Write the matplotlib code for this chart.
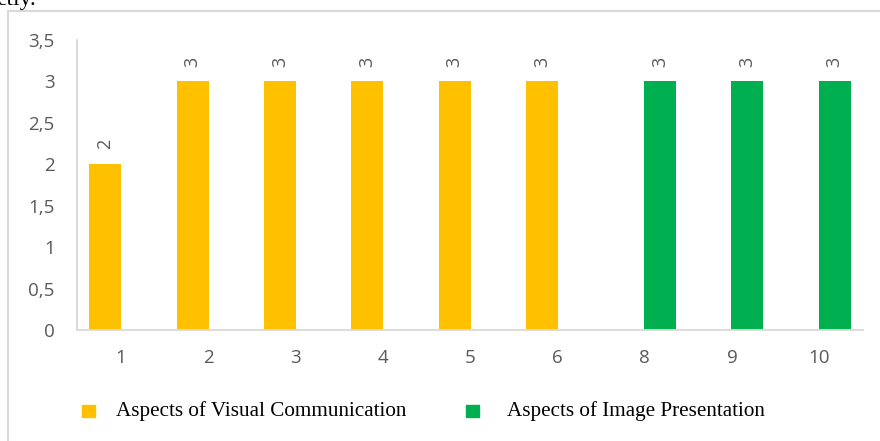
import numpy as np
import matplotlib.pyplot as plt
from matplotlib.patches import Rectangle
from matplotlib.lines import Line2D

categories = ["1", "2", "3", "4", "5", "6", "8", "9", "10"]
visual = [2, 3, 3, 3, 3, 3, 0, 0, 0]
image = [0, 0, 0, 0, 0, 0, 3, 3, 3]
series_names = ["Aspects of Visual Communication", "Aspects of Image Presentation"]
series_colors = ["#FFC000", "#00B050"]
yticks = [0, 0.5, 1, 1.5, 2, 2.5, 3, 3.5]

W, H = 880, 441
fig = plt.figure(figsize=(8.8, 4.41), dpi=100)
ax = fig.add_axes([77 / W, 1 - 330 / H, 786 / W, 290 / H])

x = np.arange(len(categories))
offsets = [-0.175, 0.175]
for vals, off, col in zip([visual, image], offsets, series_colors):
    ax.bar(x + off, vals, width=0.365, color=col, zorder=2)
    for xi, v in zip(x, vals):
        if v == 0:
            continue
        ax.annotate(str(v), (xi + off, v), xytext=(0, 20), textcoords="offset pixels",
                    ha="center", va="center", rotation=90, fontsize=13,
                    color="#595959", family="Open Sans")

ax.set_xlim(-0.5, len(categories) - 0.5)
ax.set_ylim(0, 3.5)
ax.set_xticks(x)
ax.set_xticklabels(categories)
ax.set_yticks(yticks)
ax.set_yticklabels([f"{t:g}".replace(".", ",") for t in yticks])
for lab in ax.get_xticklabels() + ax.get_yticklabels():
    lab.set_family("Open Sans")
    lab.set_fontsize(13.5)
    lab.set_color("#595959")
ax.tick_params(length=0)
ax.tick_params(axis="x", pad=14)
ax.tick_params(axis="y", pad=16)
for s in ["top", "right"]:
    ax.spines[s].set_visible(False)
for s in ["left", "bottom"]:
    ax.spines[s].set_color("#d9d9d9")
    ax.spines[s].set_linewidth(1.3)

# legend drawn by hand (pixel positions from the reference)
for (sx, tx), name, col in zip([(82, 116), (466, 507)], series_names, series_colors):
    fig.add_artist(Rectangle((sx / W, 1 - 417 / H), 12.5 / W, 12.5 / H,
                             transform=fig.transFigure, color=col))
    fig.text(tx / W, 1 - 411 / H, name, family="Liberation Serif", fontsize=15.2,
             va="center", ha="left")

# outer chart border
fig.add_artist(Line2D([7.5 / W, 7.5 / W], [0, 1 - 11 / H], color="#d9d9d9", lw=1.5))
fig.add_artist(Line2D([7.5 / W, 1], [1 - 11 / H, 1 - 11 / H], color="#d9d9d9", lw=1.5))

# cut-off text from the page above
fig.text(-0.004, 1 - 5 / H, "etly.", family="Liberation Serif", fontsize=17,
         va="baseline", ha="left")

fig.savefig("out.png", dpi=100)
